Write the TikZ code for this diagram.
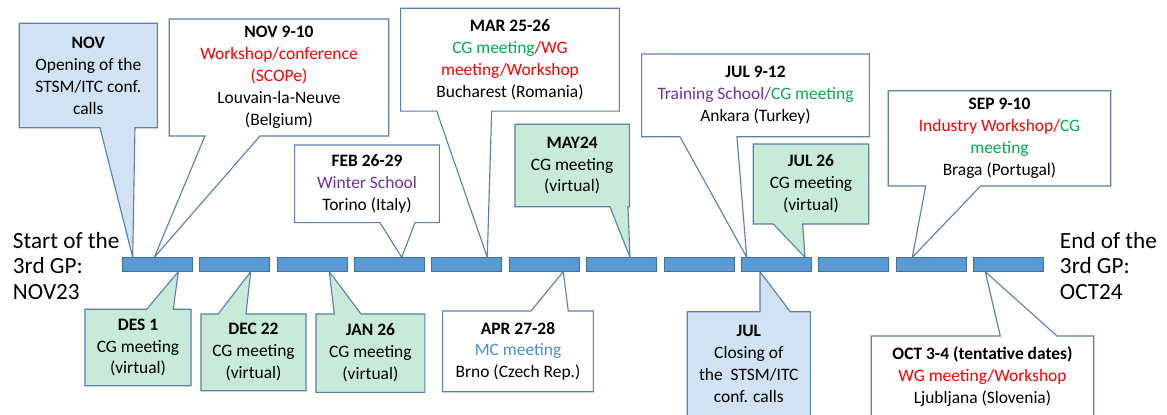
\documentclass[tikz,border=0pt]{standalone}
\usepackage{fontspec}
\setmainfont{Carlito}
\usepackage{tikz}
\usetikzlibrary{calc}
\usetikzlibrary{backgrounds}

\tikzset{
  bar/.style={draw=r65g113b156, fill=r91g155b213, line width=0.6pt,
    minimum width=1.75cm, minimum height=0.36cm, inner sep=0pt, outer sep=0pt},
  txt/.style={align=center, inner sep=0pt, outer sep=0pt,
    font=\fontsize{12.4}{15.6}\selectfont},
  bigtxt/.style={align=left, anchor=west, inner sep=0pt,
    font=\fontsize{16.5}{18.3}\selectfont},
  outline/.style={draw=r91g127b174, line width=0.8pt},
}

\begin{document}
\begin{tikzpicture}[x=0.025cm, y=-0.025cm]
  \useasboundingbox (0,0) rectangle (1167,415);
  \clip (0,0) rectangle (1167,415);

  % Colours
  \definecolor{r91g155b213}{RGB}{91,155,213}%
  \definecolor{r65g113b156}{RGB}{65,113,156}%
  \definecolor{r91g127b174}{RGB}{91,127,174}%
  \definecolor{r200g235b217}{RGB}{200,235,217}%
  \definecolor{r209g226b242}{RGB}{209,226,242}%
  \definecolor{r255g0b0}{RGB}{255,0,0}%
  \definecolor{r0g176b80}{RGB}{0,176,80}%
  \definecolor{r112g48b160}{RGB}{112,48,160}%
  \definecolor{r74g143b212}{RGB}{74,143,212}%

  % Timeline bars
  \foreach \i in {1,...,12}
    \node[bar] (b\i) at ({157.3+77.4*(\i-1)},264.5) {};

  % Start and end of the period
  \node[bigtxt] (gpstart) at (12.7,266) {Start of the\\3rd GP:\\NOV23};
  \node[bigtxt] (gpend) at (1059.7,266) {End of the\\3rd GP:\\OCT24};

  % Callout NOV
  \node[txt, minimum width=3.45cm, minimum height=2.61cm] (nov) at (88.3,75.5)
    {\textbf{NOV}\\Opening of the\\STSM/ITC conf.\\calls};
  \begin{scope}[on background layer]
    \draw[outline, fill=r209g226b242] (nov.north west) -- (nov.north east) -- (nov.south east)
      -- ($(nov.south west)+(115.7,0)$) -- ($(b1.north west)+(10.4,0)$)
      -- ($(nov.south west)+(80.7,0)$) -- (nov.south west) -- cycle;
  \end{scope}

  % Callout NOV 9-10
  \node[txt, minimum width=5.485cm, minimum height=2.925cm] (novws) at (279,77.5)
    {\textbf{NOV 9-10}\\\textcolor{r255g0b0}{Workshop/conference}\\\textcolor{r255g0b0}{(SCOPe)}\\Louvain-la-Neuve\\(Belgium)};
  \begin{scope}[on background layer]
    \draw[outline, fill=white] (novws.north west) -- (novws.north east) -- (novws.south east)
      -- ($(novws.south west)+(90.7,0)$) -- ($(b1.north west)+(32,0)$)
      -- ($(novws.south west)+(35.7,0)$) -- (novws.south west) -- cycle;
  \end{scope}

  % Callout FEB 26-29
  \node[txt, minimum width=3.615cm, minimum height=1.94cm] (feb) at (367,183.85)
    {\textbf{FEB 26-29}\\\textcolor{r112g48b160}{Winter School}\\Torino (Italy)};
  \begin{scope}[on background layer]
    \draw[outline, fill=white] (feb.north west) -- (feb.north east) -- (feb.south east)
      -- ($(feb.south west)+(120.3,0)$) -- ($(b4.north west)+(47.2,0)$)
      -- ($(feb.south west)+(85.3,0)$) -- (feb.south west) -- cycle;
  \end{scope}

  % Callout MAR 25-26
  \node[txt, minimum width=5.465cm, minimum height=2.57cm] (mar) at (510,59.65)
    {\textbf{MAR 25-26}\\\textcolor{r0g176b80}{CG meeting}\textcolor{r255g0b0}{/WG}\\\textcolor{r255g0b0}{meeting/Workshop}\\Bucharest (Romania)};
  \begin{scope}[on background layer]
    \draw[outline, fill=white] (mar.north west) -- (mar.north east) -- (mar.south east)
      -- ($(mar.south west)+(91,0)$) -- ($(b5.north west)+(55.4,0)$)
      -- ($(mar.south west)+(36,0)$) -- (mar.south west) -- cycle;
  \end{scope}

  % Callout MAY24
  \node[txt, minimum width=2.86cm, minimum height=2.06cm] (may) at (572.15,165.5)
    {\textbf{MAY24}\\CG meeting\\(virtual)};
  \begin{scope}[on background layer]
    \draw[outline, fill=r200g235b217] (may.north west) -- (may.north east) -- (may.south east)
      -- ($(may.south west)+(113,0)$) -- ($(b7.north west)+(43.3,0)$)
      -- ($(may.south west)+(95,0)$) -- (may.south west) -- cycle;
  \end{scope}

  % Callout JUL 9-12
  \node[txt, minimum width=5.69cm, minimum height=2.07cm] (jults) at (755.5,95.35)
    {\textbf{JUL 9-12}\\\textcolor{r112g48b160}{Training School/}\textcolor{r0g176b80}{CG meeting}\\Ankara (Turkey)};
  \begin{scope}[on background layer]
    \draw[outline, fill=white] (jults.north west) -- (jults.north east) -- (jults.south east)
      -- ($(jults.south west)+(95.3,0)$) -- ($(b9.north west)+(5.2,0)$)
      -- ($(jults.south west)+(38.3,0)$) -- (jults.south west) -- cycle;
  \end{scope}

  % Callout JUL 26
  \node[txt, minimum width=2.885cm, minimum height=2.0cm] (jul26) at (811,184)
    {\textbf{JUL 26}\\CG meeting\\(virtual)};
  \begin{scope}[on background layer]
    \draw[outline, fill=r200g235b217] (jul26.north west) -- (jul26.north east) -- (jul26.south east)
      -- ($(jul26.south west)+(49.4,0)$) -- ($(b9.north west)+(63.5,0)$)
      -- ($(jul26.south west)+(20,0)$) -- (jul26.south west) -- cycle;
  \end{scope}

  % Callout SEP 9-10
  \node[txt, minimum width=5.56cm, minimum height=2.38cm] (sep) at (999.5,138.35)
    {\textbf{SEP 9-10}\\\textcolor{r255g0b0}{Industry Workshop/}\textcolor{r0g176b80}{CG}\\\textcolor{r0g176b80}{meeting}\\Braga (Portugal)};
  \begin{scope}[on background layer]
    \draw[outline, fill=white] (sep.north west) -- (sep.north east) -- (sep.south east)
      -- ($(sep.south west)+(92.4,0)$) -- ($(b11.north west)+(16,0)$)
      -- ($(sep.south west)+(37.4,0)$) -- (sep.south west) -- cycle;
  \end{scope}

  % Callout DES 1
  \node[txt, minimum width=2.65cm, minimum height=1.91cm] (des) at (138,347.5)
    {\textbf{DES 1}\\CG meeting\\(virtual)};
  \begin{scope}[on background layer]
    \draw[outline, fill=r200g235b217] (des.south west) -- (des.south east) -- (des.north east)
      -- ($(des.north west)+(88.3,0)$) -- ($(b1.south west)+(56,0)$)
      -- ($(des.north west)+(61.7,0)$) -- (des.north west) -- cycle;
  \end{scope}

  % Callout DEC 22
  \node[txt, minimum width=2.625cm, minimum height=1.92cm] (dec) at (253.5,352.35)
    {\textbf{DEC 22}\\CG meeting\\(virtual)};
  \begin{scope}[on background layer]
    \draw[outline, fill=r200g235b217] (dec.south west) -- (dec.south east) -- (dec.north east)
      -- ($(dec.north west)+(45,0)$) -- ($(b2.south west)+(51,0)$)
      -- ($(dec.north west)+(17.3,0)$) -- (dec.north west) -- cycle;
  \end{scope}

  % Callout JAN 26
  \node[txt, minimum width=2.72cm, minimum height=1.96cm] (jan) at (370.4,353.15)
    {\textbf{JAN 26}\\CG meeting\\(virtual)};
  \begin{scope}[on background layer]
    \draw[outline, fill=r200g235b217] (jan.south west) -- (jan.south east) -- (jan.north east)
      -- ($(jan.north west)+(45,0)$) -- ($(b3.south west)+(52.2,0)$)
      -- ($(jan.north west)+(18.3,0)$) -- (jan.north west) -- cycle;
  \end{scope}

  % Callout APR 27-28
  \node[txt, minimum width=3.765cm, minimum height=2.02cm] (apr) at (518,351.35)
    {\textbf{APR 27-28}\\\textcolor{r74g143b212}{MC meeting}\\Brno (Czech Rep.)};
  \begin{scope}[on background layer]
    \draw[outline, fill=white] (apr.south west) -- (apr.south east) -- (apr.north east)
      -- ($(apr.north west)+(125.6,0)$) -- ($(b6.south west)+(54,0)$)
      -- ($(apr.north west)+(88.3,0)$) -- (apr.north west) -- cycle;
  \end{scope}

  % Callout JUL (closing of the calls)
  \node[txt, minimum width=3.075cm, minimum height=2.615cm] (jul) at (748.8,364)
    {\textbf{JUL}\\Closing of\\the \ STSM/ITC\\conf. calls};
  \begin{scope}[on background layer]
    \draw[outline, fill=r209g226b242] (jul.south west) -- (jul.south east) -- (jul.north east)
      -- ($(jul.north west)+(103,0)$) -- ($(b9.south west)+(18.5,0)$)
      -- ($(jul.north west)+(72.7,0)$) -- (jul.north west) -- cycle;
  \end{scope}

  % Callout OCT 3-4
  \node[txt, minimum width=5.56cm, minimum height=2.025cm] (oct) at (982.5,376.5)
    {\textbf{OCT 3-4 (tentative dates)}\\\textcolor{r255g0b0}{WG meeting/Workshop}\\Ljubljana (Slovenia)};
  \begin{scope}[on background layer]
    \draw[outline, fill=white] (oct.south west) -- (oct.south east) -- (oct.north east)
      -- ($(oct.north west)+(185.7,0)$) -- ($(b12.south west)+(11.6,0)$)
      -- ($(oct.north west)+(129,0)$) -- (oct.north west) -- cycle;
  \end{scope}
\end{tikzpicture}
\end{document}
